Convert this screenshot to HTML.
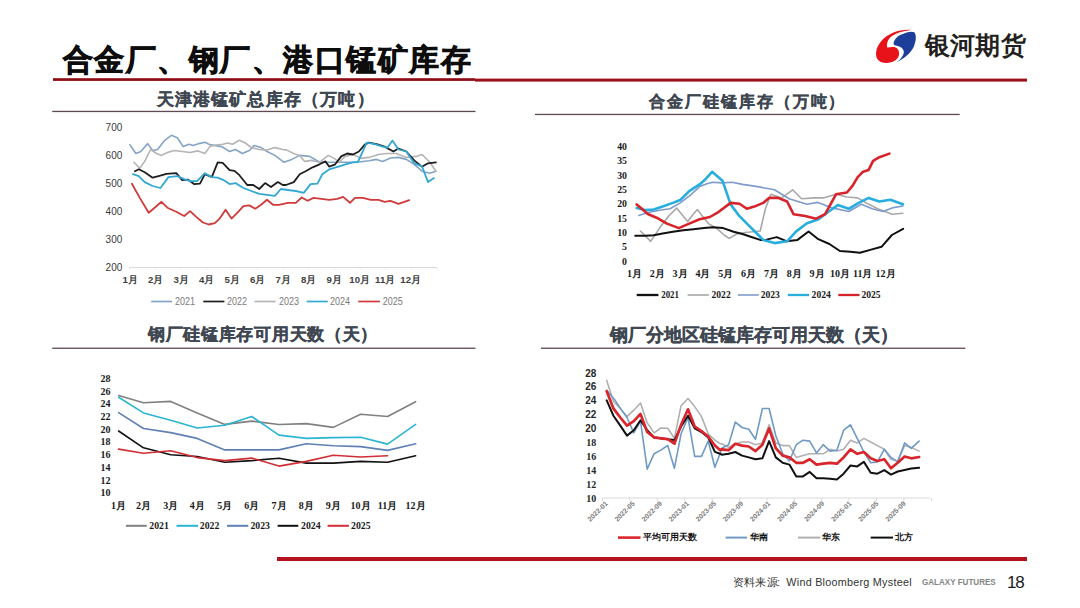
<!DOCTYPE html>
<html><head><meta charset="utf-8"><style>
html,body{margin:0;padding:0;background:#fff;}
body{width:1080px;height:608px;position:relative;overflow:hidden;font-family:"Liberation Sans",sans-serif;}
.a{position:absolute;white-space:nowrap;}
</style></head><body>
<svg class="a" style="left:0;top:0" width="1080" height="608" viewBox="0 0 1080 608">
<!-- header lines -->
<rect x="53" y="78.2" width="422" height="2.7" fill="#8e0d15"/>
<rect x="475" y="78.6" width="552" height="3" fill="#9b1119"/>
<rect x="52.2" y="110.8" width="423.3" height="1.3" fill="#5e4a50"/>
<rect x="535" y="113.8" width="424.7" height="1.3" fill="#5e4a50"/>
<rect x="52.2" y="347.6" width="423.3" height="1.3" fill="#5e4a50"/>
<rect x="541" y="347.6" width="424.3" height="1.3" fill="#5e4a50"/>
<rect x="277" y="557" width="750" height="4" fill="#b5141f"/>
<!-- logo -->
<g transform="translate(870,25) scale(0.0691)">
<path d="M600,72 C450,55 270,110 165,230 C100,305 80,380 90,450 C100,515 160,552 240,550 C330,545 400,500 418,440 C428,395 415,345 370,325 C330,310 290,325 250,325 C235,280 250,225 295,178 C355,120 470,88 600,72 Z" fill="#e8121b"/>
<path d="M485,126 C540,100 610,88 640,105 C675,140 668,230 635,310 C595,400 500,480 385,540 C440,500 480,450 490,400 C492,360 460,325 423,312 C390,300 360,295 343,281 C340,250 350,215 405,163 C430,145 460,134 485,126 Z" fill="#1e3e9c"/>
</g>
<line x1="129.5" y1="267.5" x2="437" y2="267.5" stroke="#d9d9d9" stroke-width="1"/>
<line x1="129.5" y1="267.5" x2="129.5" y2="269.5" stroke="#e3e3e3" stroke-width="1"/>
<line x1="155.1" y1="267.5" x2="155.1" y2="269.5" stroke="#e3e3e3" stroke-width="1"/>
<line x1="180.7" y1="267.5" x2="180.7" y2="269.5" stroke="#e3e3e3" stroke-width="1"/>
<line x1="206.4" y1="267.5" x2="206.4" y2="269.5" stroke="#e3e3e3" stroke-width="1"/>
<line x1="232.0" y1="267.5" x2="232.0" y2="269.5" stroke="#e3e3e3" stroke-width="1"/>
<line x1="257.6" y1="267.5" x2="257.6" y2="269.5" stroke="#e3e3e3" stroke-width="1"/>
<line x1="283.2" y1="267.5" x2="283.2" y2="269.5" stroke="#e3e3e3" stroke-width="1"/>
<line x1="308.8" y1="267.5" x2="308.8" y2="269.5" stroke="#e3e3e3" stroke-width="1"/>
<line x1="334.5" y1="267.5" x2="334.5" y2="269.5" stroke="#e3e3e3" stroke-width="1"/>
<line x1="360.1" y1="267.5" x2="360.1" y2="269.5" stroke="#e3e3e3" stroke-width="1"/>
<line x1="385.7" y1="267.5" x2="385.7" y2="269.5" stroke="#e3e3e3" stroke-width="1"/>
<line x1="411.3" y1="267.5" x2="411.3" y2="269.5" stroke="#e3e3e3" stroke-width="1"/>
<line x1="436.9" y1="267.5" x2="436.9" y2="269.5" stroke="#e3e3e3" stroke-width="1"/>
<polyline points="129.9,144.6 135.9,153.5 140.8,151.5 147.7,143.6 152.6,150.5 157.6,149.5 164.5,140.6 171.4,135.3 177.3,137.7 183.2,146.6 189.1,144.2 193.1,145.6 199.0,143.6 204.9,142.2 209.8,144.6 215.8,145.6 221.7,146.6 229.6,151.5 235.5,149.5 242.4,153.5 249.3,150.5 254.2,145.6 261.1,147.6 267.0,151.5 274.9,155.4 282.8,161.4 283.9,162.3 291.8,159.4 299.7,155.4 309.6,156.4 319.5,162.0 331.3,162.3 345.1,162.3 358.9,162.0 368.8,160.8 376.7,159.4 382.6,161.4 390.5,158.0 398.4,157.4 406.3,159.4 414.2,164.3 422.0,171.2 429.9,173.2 435.9,171.2" fill="none" stroke="#84a4c6" stroke-width="1.6" stroke-linejoin="round" stroke-linecap="round" />
<polyline points="133.9,162.3 139.8,168.3 144.7,161.4 150.6,149.5 156.6,153.5 161.5,155.4 167.4,152.5 174.3,150.5 182.2,151.5 190.1,152.5 198.0,150.9 204.9,153.5 209.8,146.6 215.8,145.0 222.7,144.2 227.6,143.0 232.5,144.2 239.4,140.3 245.3,143.0 251.3,147.6 259.2,149.5 267.0,150.1 274.9,147.6 282.8,149.5 286.9,150.1 293.8,153.5 299.7,155.4 304.7,161.4 311.6,160.4 319.5,162.3 328.3,155.4 334.3,158.4 339.2,162.3 345.1,156.4 353.0,154.5 360.9,158.4 368.8,157.4 378.6,154.5 386.5,153.5 396.4,153.5 406.3,157.4 416.1,156.4 422.0,154.5 429.9,162.3 435.9,171.2" fill="none" stroke="#b4b4b4" stroke-width="1.6" stroke-linejoin="round" stroke-linecap="round" />
<polyline points="134.9,171.2 138.8,169.3 144.7,172.2 152.6,177.7 159.5,175.8 166.4,173.8 176.3,173.2 182.2,180.1 188.1,179.7 194.1,184.1 200.0,183.7 204.9,174.2 211.8,177.1 217.7,162.3 222.7,162.9 229.6,170.2 234.5,170.8 239.4,175.2 247.3,185.0 253.2,185.0 259.2,189.0 265.1,183.1 271.0,187.0 277.9,182.1 282.8,185.0 285.9,185.0 293.8,182.1 299.7,174.2 305.6,171.2 312.6,167.3 319.5,164.3 325.4,161.4 329.3,166.7 335.2,164.3 341.2,156.4 347.1,153.5 353.0,154.5 358.9,151.5 364.8,144.6 368.8,142.6 376.7,144.2 384.6,146.6 393.4,151.5 398.4,148.5 406.3,151.5 414.2,160.4 422.0,166.7 428.0,163.3 435.9,162.3" fill="none" stroke="#1e1e1e" stroke-width="1.8" stroke-linejoin="round" stroke-linecap="round" />
<polyline points="132.9,174.2 138.8,176.2 144.7,182.1 152.6,186.0 160.5,188.0 168.4,177.1 177.3,176.2 184.2,179.1 190.1,181.1 197.0,181.1 204.9,173.2 211.8,177.1 217.7,177.7 223.6,180.1 229.6,184.1 235.5,183.1 243.4,188.0 251.3,191.0 259.2,193.9 267.0,194.9 274.9,195.9 280.9,189.0 287.9,190.0 295.8,191.0 303.7,192.9 310.6,184.1 317.5,183.7 322.4,174.2 329.3,169.3 339.2,166.3 347.1,163.9 353.0,162.3 357.9,162.0 366.8,142.6 374.7,144.2 382.6,146.6 387.5,147.6 392.5,140.6 398.4,149.5 406.3,151.5 414.2,163.3 422.0,166.3 428.0,182.1 433.9,178.1" fill="none" stroke="#33a8d2" stroke-width="1.8" stroke-linejoin="round" stroke-linecap="round" />
<polyline points="131.9,183.7 139.8,197.9 148.7,212.7 154.6,207.7 161.5,201.8 167.4,207.7 176.3,211.7 184.2,216.0 190.1,211.1 196.0,216.6 202.9,222.5 208.8,224.5 214.8,223.1 219.7,218.6 225.6,209.7 231.5,218.6 237.5,212.7 243.4,206.1 249.3,205.4 255.2,208.7 261.1,204.8 267.0,199.8 273.0,204.8 278.9,204.8 287.9,202.8 295.8,202.8 301.7,197.5 307.6,200.8 313.5,197.9 321.4,198.8 329.3,199.8 337.2,198.8 343.1,196.9 350.0,202.8 355.0,197.9 362.9,197.9 370.8,199.8 378.6,199.8 384.6,201.8 390.5,200.8 398.4,203.8 404.3,201.8 409.2,200.2" fill="none" stroke="#d03a3a" stroke-width="1.8" stroke-linejoin="round" stroke-linecap="round" />
<polyline points="640.4,231.0 650.7,241.4 659.6,228.1 668.5,216.2 676.6,208.1 683.3,216.2 687.7,221.4 692.2,215.5 697.3,209.6 702.5,216.2 708.4,223.6 717.3,228.8 724.7,235.5 729.2,238.4 736.6,234.0 745.4,232.5 760.2,231.0 765.4,208.8 770.9,194.3 781.7,197.9 792.6,189.8 801.6,198.8 814.3,197.9 823.3,197.9 836.0,194.3 846.9,197.0 857.7,197.9 866.8,203.3 877.6,208.8 892.1,214.2 902.9,213.3" fill="none" stroke="#a8a8a8" stroke-width="1.6" stroke-linejoin="round" stroke-linecap="round" />
<polyline points="638.9,215.5 647.8,212.5 659.6,210.3 670.0,208.8 680.3,202.9 690.7,194.8 699.6,186.6 707.0,183.7 712.9,182.2 721.8,182.9 732.1,182.2 742.5,184.4 752.8,185.9 761.7,187.4 774.5,189.8 789.0,198.8 807.0,204.2 817.9,202.4 832.4,207.9 848.7,211.5 861.3,204.2 872.2,208.8 883.0,211.5 892.1,207.9 902.9,206.0" fill="none" stroke="#7f9bcb" stroke-width="1.6" stroke-linejoin="round" stroke-linecap="round" />
<polyline points="635.2,235.8 644.8,235.8 653.7,235.2 662.6,233.6 672.9,231.8 683.3,230.3 693.6,229.3 704.0,228.1 712.9,227.3 723.2,228.1 733.6,231.8 742.5,234.0 751.4,237.0 760.2,239.9 765.6,239.9 776.7,237.1 786.4,241.2 797.5,239.9 808.6,231.5 818.3,239.2 829.4,244.0 839.9,251.0 850.3,251.7 860.0,252.8 871.1,249.6 881.5,246.8 891.9,235.0 903.1,228.8" fill="none" stroke="#111111" stroke-width="2.0" stroke-linejoin="round" stroke-linecap="round" />
<polyline points="636.7,208.1 644.8,210.0 653.7,209.6 662.6,206.6 672.9,202.9 680.3,200.0 689.2,191.1 699.6,184.4 705.5,179.2 712.1,171.8 722.5,180.7 730.6,204.4 739.5,216.2 748.4,225.1 757.3,234.0 763.2,239.9 774.5,243.1 787.1,241.3 796.2,231.4 807.0,223.2 817.9,219.6 828.8,211.5 837.8,205.1 848.7,208.8 857.7,203.3 868.6,197.9 879.4,201.5 890.3,199.7 902.9,204.2" fill="none" stroke="#28ade0" stroke-width="2.6" stroke-linejoin="round" stroke-linecap="round" />
<polyline points="636.7,204.4 641.8,208.8 647.8,214.0 656.6,217.7 667.0,223.6 678.8,228.1 689.2,223.6 699.6,219.2 709.9,217.0 718.8,211.8 730.6,202.9 739.5,203.7 746.9,208.8 754.3,206.6 763.2,202.9 769.0,197.9 778.1,197.9 787.1,201.5 793.5,214.2 805.2,216.0 816.1,218.7 825.1,214.2 836.0,194.3 846.9,192.5 852.3,186.1 857.7,177.1 863.1,171.7 868.6,169.9 873.1,160.8 879.4,157.2 889.4,153.6" fill="none" stroke="#d8232a" stroke-width="2.6" stroke-linejoin="round" stroke-linecap="round" />
<polyline points="118.6,395.6 143.5,402.7 170.7,401.4 197.2,412.9 224.8,424.4 251.7,421.1 279.0,424.5 306.3,423.6 333.3,427.4 360.6,414.2 387.6,416.5 415.6,401.7" fill="none" stroke="#808080" stroke-width="1.6" stroke-linejoin="round" stroke-linecap="round" />
<polyline points="118.6,397.3 143.5,412.9 170.7,420.3 197.2,428.0 224.8,425.2 251.7,416.5 279.0,435.1 306.3,438.4 333.3,437.6 360.6,437.2 387.6,444.1 415.6,424.4" fill="none" stroke="#2ab5d3" stroke-width="1.6" stroke-linejoin="round" stroke-linecap="round" />
<polyline points="118.6,412.6 143.5,428.5 170.7,432.6 197.2,438.4 224.8,449.9 251.7,449.9 279.0,449.9 306.3,443.8 333.3,445.8 360.6,446.6 387.6,450.4 415.6,443.8" fill="none" stroke="#5f7fb5" stroke-width="1.6" stroke-linejoin="round" stroke-linecap="round" />
<polyline points="118.6,431.0 143.5,447.8 170.7,454.8 197.2,456.5 224.8,462.2 251.7,460.6 279.0,458.3 306.3,463.1 333.3,463.1 360.6,461.4 387.6,462.2 415.6,455.7" fill="none" stroke="#111111" stroke-width="1.6" stroke-linejoin="round" stroke-linecap="round" />
<polyline points="118.6,449.1 143.5,453.2 170.7,450.7 197.2,457.6 224.8,460.6 251.7,458.1 279.0,466.1 306.3,461.4 333.3,455.3 360.6,457.0 387.6,455.7" fill="none" stroke="#d12e36" stroke-width="1.6" stroke-linejoin="round" stroke-linecap="round" />
<line x1="602" y1="498" x2="930" y2="498" stroke="#d9d9d9" stroke-width="1"/>
<line x1="602.5" y1="498" x2="602.5" y2="501" stroke="#d9d9d9" stroke-width="1"/>
<line x1="629.9" y1="498" x2="629.9" y2="501" stroke="#d9d9d9" stroke-width="1"/>
<line x1="657.3" y1="498" x2="657.3" y2="501" stroke="#d9d9d9" stroke-width="1"/>
<line x1="684.7" y1="498" x2="684.7" y2="501" stroke="#d9d9d9" stroke-width="1"/>
<line x1="712.1" y1="498" x2="712.1" y2="501" stroke="#d9d9d9" stroke-width="1"/>
<line x1="739.5" y1="498" x2="739.5" y2="501" stroke="#d9d9d9" stroke-width="1"/>
<line x1="766.9" y1="498" x2="766.9" y2="501" stroke="#d9d9d9" stroke-width="1"/>
<line x1="794.3" y1="498" x2="794.3" y2="501" stroke="#d9d9d9" stroke-width="1"/>
<line x1="821.7" y1="498" x2="821.7" y2="501" stroke="#d9d9d9" stroke-width="1"/>
<line x1="849.1" y1="498" x2="849.1" y2="501" stroke="#d9d9d9" stroke-width="1"/>
<line x1="876.5" y1="498" x2="876.5" y2="501" stroke="#d9d9d9" stroke-width="1"/>
<line x1="903.9" y1="498" x2="903.9" y2="501" stroke="#d9d9d9" stroke-width="1"/>
<line x1="931.3" y1="498" x2="931.3" y2="501" stroke="#d9d9d9" stroke-width="1"/>
<polyline points="606.7,380.4 613.4,401.2 620.3,408.4 627.0,416.6 633.8,410.2 640.5,403.0 647.2,422.9 654.1,432.9 660.8,428.0 667.7,428.3 674.4,438.3 681.1,405.7 688.0,398.5 694.7,406.6 701.5,416.6 708.2,433.8 714.9,440.1 720.0,443.7 721.7,443.8 728.6,447.4 735.3,443.8 742.1,442.0 748.8,442.0 755.5,444.7 762.4,442.9 769.1,424.8 775.8,442.9 782.7,445.6 789.4,445.6 796.3,457.4 803.0,455.6 809.7,453.8 816.5,453.8 823.2,453.8 830.1,449.3 836.9,451.1 843.6,449.3 850.5,440.2 857.2,442.9 863.9,438.4 870.7,442.0 877.4,445.6 884.3,449.3 891.0,459.2 897.7,461.0 904.6,445.6 911.3,447.4 919.1,451.1" fill="none" stroke="#b0b0b0" stroke-width="1.6" stroke-linejoin="round" stroke-linecap="round" />
<polyline points="606.7,390.3 614.5,399.4 620.3,408.4 627.0,417.5 633.8,432.9 640.5,421.1 647.2,469.1 654.1,453.7 660.8,450.1 667.7,445.5 674.4,468.2 681.1,433.8 688.0,417.5 694.7,456.4 701.5,456.4 708.2,441.0 714.9,467.3 720.0,453.7 721.7,448.3 728.6,444.7 735.3,422.1 742.1,427.5 748.8,429.3 755.5,439.3 762.4,408.5 769.1,408.5 775.8,435.7 782.7,453.8 789.4,461.0 796.3,444.7 803.0,440.2 809.7,441.1 816.5,452.9 823.2,444.7 830.1,451.1 836.9,450.2 843.6,430.2 850.5,424.8 857.2,438.4 863.9,452.0 870.7,462.8 877.4,461.9 884.3,449.3 891.0,457.4 897.7,461.9 904.6,442.9 911.3,448.3 919.1,441.1" fill="none" stroke="#6f9ac6" stroke-width="1.6" stroke-linejoin="round" stroke-linecap="round" />
<polyline points="606.7,400.3 613.4,415.7 620.3,425.6 627.0,435.6 633.8,430.2 640.5,420.2 647.2,430.2 654.1,437.4 660.8,438.3 667.7,439.2 674.4,440.1 681.1,426.5 688.0,415.7 694.7,428.3 701.5,432.0 708.2,437.4 714.9,451.9 720.0,453.7 721.7,454.7 728.6,453.8 735.3,452.0 742.1,455.6 748.8,457.4 755.5,459.2 762.4,458.3 769.1,441.1 775.8,457.4 782.7,462.8 789.4,464.6 796.3,476.4 803.0,476.4 809.7,471.9 816.5,478.2 823.2,478.2 830.1,478.8 836.9,479.5 843.6,473.7 850.5,465.5 857.2,466.4 863.9,461.9 870.7,472.8 877.4,473.7 884.3,470.1 891.0,474.6 897.7,471.5 904.6,470.1 911.3,468.6 919.1,467.7" fill="none" stroke="#111111" stroke-width="2.0" stroke-linejoin="round" stroke-linecap="round" />
<polyline points="606.7,391.2 613.4,408.4 620.3,417.5 627.0,425.6 633.8,421.1 640.5,413.9 647.2,432.0 654.1,437.4 660.8,438.3 667.7,439.2 674.4,443.7 681.1,424.7 688.0,409.3 694.7,426.5 701.5,431.1 708.2,436.5 714.9,445.5 720.0,450.1 721.7,449.3 728.6,450.2 735.3,443.8 742.1,445.6 748.8,446.5 755.5,451.1 762.4,444.7 769.1,428.4 775.8,448.3 782.7,455.6 789.4,457.4 796.3,462.8 803.0,462.8 809.7,459.2 816.5,464.6 823.2,463.7 830.1,462.8 836.9,463.7 843.6,457.4 850.5,449.3 857.2,453.8 863.9,452.0 870.7,458.3 877.4,461.0 884.3,459.2 891.0,468.3 897.7,462.8 904.6,456.5 911.3,458.3 919.1,457.0" fill="none" stroke="#d8262c" stroke-width="2.7" stroke-linejoin="round" stroke-linecap="round" />
<line x1="151.2" y1="301.5" x2="172.0" y2="301.5" stroke="#84a4c6" stroke-width="1.7"/>
<line x1="203.3" y1="301.5" x2="224.4" y2="301.5" stroke="#1e1e1e" stroke-width="1.7"/>
<line x1="254.4" y1="301.5" x2="275.6" y2="301.5" stroke="#b4b4b4" stroke-width="1.7"/>
<line x1="306.7" y1="301.5" x2="327.8" y2="301.5" stroke="#33a8d2" stroke-width="1.7"/>
<line x1="358.2" y1="301.5" x2="380.0" y2="301.5" stroke="#d03a3a" stroke-width="1.7"/>
<line x1="636.7" y1="295.0" x2="658.4" y2="295.0" stroke="#111111" stroke-width="2.3"/>
<line x1="687.6" y1="295.0" x2="708.9" y2="295.0" stroke="#a8a8a8" stroke-width="1.6"/>
<line x1="737.9" y1="295.0" x2="758.8" y2="295.0" stroke="#7f9bcb" stroke-width="1.6"/>
<line x1="787.8" y1="295.0" x2="809.1" y2="295.0" stroke="#28ade0" stroke-width="2.3"/>
<line x1="838.3" y1="295.0" x2="859.5" y2="295.0" stroke="#d8232a" stroke-width="2.3"/>
<line x1="125.9" y1="525.8" x2="146.7" y2="525.8" stroke="#808080" stroke-width="2"/>
<line x1="176.5" y1="525.8" x2="198.0" y2="525.8" stroke="#2ab5d3" stroke-width="2"/>
<line x1="227.0" y1="525.8" x2="248.3" y2="525.8" stroke="#5f7fb5" stroke-width="2"/>
<line x1="277.6" y1="525.8" x2="298.3" y2="525.8" stroke="#111111" stroke-width="2"/>
<line x1="327.6" y1="525.8" x2="348.9" y2="525.8" stroke="#d12e36" stroke-width="2"/>
<line x1="618.0" y1="537.6" x2="640.5" y2="537.6" stroke="#d8262c" stroke-width="2.6"/>
<line x1="725.6" y1="537.6" x2="747.0" y2="537.6" stroke="#6f9ac6" stroke-width="2"/>
<line x1="798.0" y1="537.6" x2="820.4" y2="537.6" stroke="#b0b0b0" stroke-width="2"/>
<line x1="870.7" y1="537.6" x2="893.0" y2="537.6" stroke="#111111" stroke-width="2"/>
<text x="122.3" y="130.8" font-size="10" fill="#3a3a3a" font-weight="normal" font-family='"Liberation Sans", sans-serif' text-anchor="end" >700</text>
<text x="122.3" y="158.9" font-size="10" fill="#3a3a3a" font-weight="normal" font-family='"Liberation Sans", sans-serif' text-anchor="end" >600</text>
<text x="122.3" y="187.0" font-size="10" fill="#3a3a3a" font-weight="normal" font-family='"Liberation Sans", sans-serif' text-anchor="end" >500</text>
<text x="122.3" y="215.2" font-size="10" fill="#3a3a3a" font-weight="normal" font-family='"Liberation Sans", sans-serif' text-anchor="end" >400</text>
<text x="122.3" y="243.3" font-size="10" fill="#3a3a3a" font-weight="normal" font-family='"Liberation Sans", sans-serif' text-anchor="end" >300</text>
<text x="122.3" y="271.4" font-size="10" fill="#3a3a3a" font-weight="normal" font-family='"Liberation Sans", sans-serif' text-anchor="end" >200</text>
<text x="130.2" y="282.8" font-size="9.6" fill="#404040" font-weight="bold" font-family='"Liberation Sans", sans-serif' text-anchor="middle" >1月</text>
<text x="155.7" y="282.8" font-size="9.6" fill="#404040" font-weight="bold" font-family='"Liberation Sans", sans-serif' text-anchor="middle" >2月</text>
<text x="181.2" y="282.8" font-size="9.6" fill="#404040" font-weight="bold" font-family='"Liberation Sans", sans-serif' text-anchor="middle" >3月</text>
<text x="206.7" y="282.8" font-size="9.6" fill="#404040" font-weight="bold" font-family='"Liberation Sans", sans-serif' text-anchor="middle" >4月</text>
<text x="232.2" y="282.8" font-size="9.6" fill="#404040" font-weight="bold" font-family='"Liberation Sans", sans-serif' text-anchor="middle" >5月</text>
<text x="257.7" y="282.8" font-size="9.6" fill="#404040" font-weight="bold" font-family='"Liberation Sans", sans-serif' text-anchor="middle" >6月</text>
<text x="283.2" y="282.8" font-size="9.6" fill="#404040" font-weight="bold" font-family='"Liberation Sans", sans-serif' text-anchor="middle" >7月</text>
<text x="308.7" y="282.8" font-size="9.6" fill="#404040" font-weight="bold" font-family='"Liberation Sans", sans-serif' text-anchor="middle" >8月</text>
<text x="334.2" y="282.8" font-size="9.6" fill="#404040" font-weight="bold" font-family='"Liberation Sans", sans-serif' text-anchor="middle" >9月</text>
<text x="359.7" y="282.8" font-size="9.6" fill="#404040" font-weight="bold" font-family='"Liberation Sans", sans-serif' text-anchor="middle" >10月</text>
<text x="385.2" y="282.8" font-size="9.6" fill="#404040" font-weight="bold" font-family='"Liberation Sans", sans-serif' text-anchor="middle" >11月</text>
<text x="410.7" y="282.8" font-size="9.6" fill="#404040" font-weight="bold" font-family='"Liberation Sans", sans-serif' text-anchor="middle" >12月</text>
<text x="174.9" y="305.2" font-size="10.2" fill="#7a7a7a" font-weight="normal" font-family='"Liberation Sans", sans-serif' text-anchor="start" textLength="20" lengthAdjust="spacingAndGlyphs">2021</text>
<text x="227.0" y="305.2" font-size="10.2" fill="#7a7a7a" font-weight="normal" font-family='"Liberation Sans", sans-serif' text-anchor="start" textLength="20" lengthAdjust="spacingAndGlyphs">2022</text>
<text x="279.0" y="305.2" font-size="10.2" fill="#7a7a7a" font-weight="normal" font-family='"Liberation Sans", sans-serif' text-anchor="start" textLength="20" lengthAdjust="spacingAndGlyphs">2023</text>
<text x="330.0" y="305.2" font-size="10.2" fill="#7a7a7a" font-weight="normal" font-family='"Liberation Sans", sans-serif' text-anchor="start" textLength="20" lengthAdjust="spacingAndGlyphs">2024</text>
<text x="382.7" y="305.2" font-size="10.2" fill="#7a7a7a" font-weight="normal" font-family='"Liberation Sans", sans-serif' text-anchor="start" textLength="20" lengthAdjust="spacingAndGlyphs">2025</text>
<text x="627.0" y="149.9" font-size="9.8" fill="#1a1a1a" font-weight="bold" font-family='"Liberation Serif", serif' text-anchor="end" >40</text>
<text x="627.0" y="164.2" font-size="9.8" fill="#1a1a1a" font-weight="bold" font-family='"Liberation Serif", serif' text-anchor="end" >35</text>
<text x="627.0" y="178.6" font-size="9.8" fill="#1a1a1a" font-weight="bold" font-family='"Liberation Serif", serif' text-anchor="end" >30</text>
<text x="627.0" y="192.9" font-size="9.8" fill="#1a1a1a" font-weight="bold" font-family='"Liberation Serif", serif' text-anchor="end" >25</text>
<text x="627.0" y="207.3" font-size="9.8" fill="#1a1a1a" font-weight="bold" font-family='"Liberation Serif", serif' text-anchor="end" >20</text>
<text x="627.0" y="221.7" font-size="9.8" fill="#1a1a1a" font-weight="bold" font-family='"Liberation Serif", serif' text-anchor="end" >15</text>
<text x="627.0" y="236.0" font-size="9.8" fill="#1a1a1a" font-weight="bold" font-family='"Liberation Serif", serif' text-anchor="end" >10</text>
<text x="627.0" y="250.4" font-size="9.8" fill="#1a1a1a" font-weight="bold" font-family='"Liberation Serif", serif' text-anchor="end" >5</text>
<text x="627.0" y="264.7" font-size="9.8" fill="#1a1a1a" font-weight="bold" font-family='"Liberation Serif", serif' text-anchor="end" >0</text>
<text x="634.4" y="277.3" font-size="10" fill="#1a1a1a" font-weight="bold" font-family='"Liberation Serif", serif' text-anchor="middle" >1月</text>
<text x="657.2" y="277.3" font-size="10" fill="#1a1a1a" font-weight="bold" font-family='"Liberation Serif", serif' text-anchor="middle" >2月</text>
<text x="680.1" y="277.3" font-size="10" fill="#1a1a1a" font-weight="bold" font-family='"Liberation Serif", serif' text-anchor="middle" >3月</text>
<text x="702.9" y="277.3" font-size="10" fill="#1a1a1a" font-weight="bold" font-family='"Liberation Serif", serif' text-anchor="middle" >4月</text>
<text x="725.7" y="277.3" font-size="10" fill="#1a1a1a" font-weight="bold" font-family='"Liberation Serif", serif' text-anchor="middle" >5月</text>
<text x="748.5" y="277.3" font-size="10" fill="#1a1a1a" font-weight="bold" font-family='"Liberation Serif", serif' text-anchor="middle" >6月</text>
<text x="771.4" y="277.3" font-size="10" fill="#1a1a1a" font-weight="bold" font-family='"Liberation Serif", serif' text-anchor="middle" >7月</text>
<text x="794.2" y="277.3" font-size="10" fill="#1a1a1a" font-weight="bold" font-family='"Liberation Serif", serif' text-anchor="middle" >8月</text>
<text x="817.0" y="277.3" font-size="10" fill="#1a1a1a" font-weight="bold" font-family='"Liberation Serif", serif' text-anchor="middle" >9月</text>
<text x="839.9" y="277.3" font-size="10" fill="#1a1a1a" font-weight="bold" font-family='"Liberation Serif", serif' text-anchor="middle" >10月</text>
<text x="862.7" y="277.3" font-size="10" fill="#1a1a1a" font-weight="bold" font-family='"Liberation Serif", serif' text-anchor="middle" >11月</text>
<text x="885.5" y="277.3" font-size="10" fill="#1a1a1a" font-weight="bold" font-family='"Liberation Serif", serif' text-anchor="middle" >12月</text>
<text x="661.2" y="298.2" font-size="11" fill="#1a1a1a" font-weight="bold" font-family='"Liberation Serif", serif' text-anchor="start" textLength="17.8" lengthAdjust="spacingAndGlyphs">2021</text>
<text x="711.5" y="298.2" font-size="11" fill="#1a1a1a" font-weight="bold" font-family='"Liberation Serif", serif' text-anchor="start" textLength="19.2" lengthAdjust="spacingAndGlyphs">2022</text>
<text x="760.7" y="298.2" font-size="11" fill="#1a1a1a" font-weight="bold" font-family='"Liberation Serif", serif' text-anchor="start" textLength="19.2" lengthAdjust="spacingAndGlyphs">2023</text>
<text x="811.6" y="298.2" font-size="11" fill="#1a1a1a" font-weight="bold" font-family='"Liberation Serif", serif' text-anchor="start" textLength="19.2" lengthAdjust="spacingAndGlyphs">2024</text>
<text x="861.4" y="298.2" font-size="11" fill="#1a1a1a" font-weight="bold" font-family='"Liberation Serif", serif' text-anchor="start" textLength="19.2" lengthAdjust="spacingAndGlyphs">2025</text>
<text x="110.5" y="381.8" font-size="10" fill="#1a1a1a" font-weight="bold" font-family='"Liberation Serif", serif' text-anchor="end" >28</text>
<text x="110.5" y="394.5" font-size="10" fill="#1a1a1a" font-weight="bold" font-family='"Liberation Serif", serif' text-anchor="end" >26</text>
<text x="110.5" y="407.2" font-size="10" fill="#1a1a1a" font-weight="bold" font-family='"Liberation Serif", serif' text-anchor="end" >24</text>
<text x="110.5" y="420.0" font-size="10" fill="#1a1a1a" font-weight="bold" font-family='"Liberation Serif", serif' text-anchor="end" >22</text>
<text x="110.5" y="432.7" font-size="10" fill="#1a1a1a" font-weight="bold" font-family='"Liberation Serif", serif' text-anchor="end" >20</text>
<text x="110.5" y="445.4" font-size="10" fill="#1a1a1a" font-weight="bold" font-family='"Liberation Serif", serif' text-anchor="end" >18</text>
<text x="110.5" y="458.1" font-size="10" fill="#1a1a1a" font-weight="bold" font-family='"Liberation Serif", serif' text-anchor="end" >16</text>
<text x="110.5" y="470.8" font-size="10" fill="#1a1a1a" font-weight="bold" font-family='"Liberation Serif", serif' text-anchor="end" >14</text>
<text x="110.5" y="483.6" font-size="10" fill="#1a1a1a" font-weight="bold" font-family='"Liberation Serif", serif' text-anchor="end" >12</text>
<text x="110.5" y="496.3" font-size="10" fill="#1a1a1a" font-weight="bold" font-family='"Liberation Serif", serif' text-anchor="end" >10</text>
<text x="118.6" y="509.3" font-size="10" fill="#1a1a1a" font-weight="bold" font-family='"Liberation Serif", serif' text-anchor="middle" >1月</text>
<text x="143.5" y="509.3" font-size="10" fill="#1a1a1a" font-weight="bold" font-family='"Liberation Serif", serif' text-anchor="middle" >2月</text>
<text x="170.7" y="509.3" font-size="10" fill="#1a1a1a" font-weight="bold" font-family='"Liberation Serif", serif' text-anchor="middle" >3月</text>
<text x="197.2" y="509.3" font-size="10" fill="#1a1a1a" font-weight="bold" font-family='"Liberation Serif", serif' text-anchor="middle" >4月</text>
<text x="224.8" y="509.3" font-size="10" fill="#1a1a1a" font-weight="bold" font-family='"Liberation Serif", serif' text-anchor="middle" >5月</text>
<text x="251.7" y="509.3" font-size="10" fill="#1a1a1a" font-weight="bold" font-family='"Liberation Serif", serif' text-anchor="middle" >6月</text>
<text x="279.0" y="509.3" font-size="10" fill="#1a1a1a" font-weight="bold" font-family='"Liberation Serif", serif' text-anchor="middle" >7月</text>
<text x="306.3" y="509.3" font-size="10" fill="#1a1a1a" font-weight="bold" font-family='"Liberation Serif", serif' text-anchor="middle" >8月</text>
<text x="333.3" y="509.3" font-size="10" fill="#1a1a1a" font-weight="bold" font-family='"Liberation Serif", serif' text-anchor="middle" >9月</text>
<text x="360.6" y="509.3" font-size="10" fill="#1a1a1a" font-weight="bold" font-family='"Liberation Serif", serif' text-anchor="middle" >10月</text>
<text x="387.6" y="509.3" font-size="10" fill="#1a1a1a" font-weight="bold" font-family='"Liberation Serif", serif' text-anchor="middle" >11月</text>
<text x="415.6" y="509.3" font-size="10" fill="#1a1a1a" font-weight="bold" font-family='"Liberation Serif", serif' text-anchor="middle" >12月</text>
<text x="149.3" y="529.3" font-size="10.8" fill="#1a1a1a" font-weight="bold" font-family='"Liberation Serif", serif' text-anchor="start" textLength="19.6" lengthAdjust="spacingAndGlyphs">2021</text>
<text x="199.8" y="529.3" font-size="10.8" fill="#1a1a1a" font-weight="bold" font-family='"Liberation Serif", serif' text-anchor="start" textLength="19.6" lengthAdjust="spacingAndGlyphs">2022</text>
<text x="250.4" y="529.3" font-size="10.8" fill="#1a1a1a" font-weight="bold" font-family='"Liberation Serif", serif' text-anchor="start" textLength="19.6" lengthAdjust="spacingAndGlyphs">2023</text>
<text x="301.0" y="529.3" font-size="10.8" fill="#1a1a1a" font-weight="bold" font-family='"Liberation Serif", serif' text-anchor="start" textLength="19.6" lengthAdjust="spacingAndGlyphs">2024</text>
<text x="351.0" y="529.3" font-size="10.8" fill="#1a1a1a" font-weight="bold" font-family='"Liberation Serif", serif' text-anchor="start" textLength="19.6" lengthAdjust="spacingAndGlyphs">2025</text>
<text x="596.3" y="376.5" font-size="10" fill="#262626" font-weight="bold" font-family='"Liberation Sans", sans-serif' text-anchor="end" >28</text>
<text x="596.3" y="390.4" font-size="10" fill="#262626" font-weight="bold" font-family='"Liberation Sans", sans-serif' text-anchor="end" >26</text>
<text x="596.3" y="404.4" font-size="10" fill="#262626" font-weight="bold" font-family='"Liberation Sans", sans-serif' text-anchor="end" >24</text>
<text x="596.3" y="418.3" font-size="10" fill="#262626" font-weight="bold" font-family='"Liberation Sans", sans-serif' text-anchor="end" >22</text>
<text x="596.3" y="432.3" font-size="10" fill="#262626" font-weight="bold" font-family='"Liberation Sans", sans-serif' text-anchor="end" >20</text>
<text x="596.3" y="446.2" font-size="10" fill="#262626" font-weight="bold" font-family='"Liberation Serif", serif' text-anchor="end" >18</text>
<text x="596.3" y="460.1" font-size="10" fill="#262626" font-weight="bold" font-family='"Liberation Serif", serif' text-anchor="end" >16</text>
<text x="596.3" y="474.1" font-size="10" fill="#262626" font-weight="bold" font-family='"Liberation Serif", serif' text-anchor="end" >14</text>
<text x="596.3" y="488.0" font-size="10" fill="#262626" font-weight="bold" font-family='"Liberation Serif", serif' text-anchor="end" >12</text>
<text x="596.3" y="502.0" font-size="10" fill="#262626" font-weight="bold" font-family='"Liberation Serif", serif' text-anchor="end" >10</text>
<text transform="translate(608.2,504) rotate(-45)" font-size="6.9" font-weight="bold" fill="#7a7a7a" font-family='"Liberation Sans", sans-serif' text-anchor="end">2022-01</text>
<text transform="translate(635.3,504) rotate(-45)" font-size="6.9" font-weight="bold" fill="#7a7a7a" font-family='"Liberation Sans", sans-serif' text-anchor="end">2022-05</text>
<text transform="translate(662.4,504) rotate(-45)" font-size="6.9" font-weight="bold" fill="#7a7a7a" font-family='"Liberation Sans", sans-serif' text-anchor="end">2022-09</text>
<text transform="translate(689.4,504) rotate(-45)" font-size="6.9" font-weight="bold" fill="#7a7a7a" font-family='"Liberation Sans", sans-serif' text-anchor="end">2023-01</text>
<text transform="translate(716.5,504) rotate(-45)" font-size="6.9" font-weight="bold" fill="#7a7a7a" font-family='"Liberation Sans", sans-serif' text-anchor="end">2023-05</text>
<text transform="translate(743.6,504) rotate(-45)" font-size="6.9" font-weight="bold" fill="#7a7a7a" font-family='"Liberation Sans", sans-serif' text-anchor="end">2023-09</text>
<text transform="translate(770.7,504) rotate(-45)" font-size="6.9" font-weight="bold" fill="#7a7a7a" font-family='"Liberation Sans", sans-serif' text-anchor="end">2024-01</text>
<text transform="translate(797.8,504) rotate(-45)" font-size="6.9" font-weight="bold" fill="#7a7a7a" font-family='"Liberation Sans", sans-serif' text-anchor="end">2024-05</text>
<text transform="translate(824.8,504) rotate(-45)" font-size="6.9" font-weight="bold" fill="#7a7a7a" font-family='"Liberation Sans", sans-serif' text-anchor="end">2024-09</text>
<text transform="translate(851.9,504) rotate(-45)" font-size="6.9" font-weight="bold" fill="#7a7a7a" font-family='"Liberation Sans", sans-serif' text-anchor="end">2025-01</text>
<text transform="translate(879.0,504) rotate(-45)" font-size="6.9" font-weight="bold" fill="#7a7a7a" font-family='"Liberation Sans", sans-serif' text-anchor="end">2025-05</text>
<text transform="translate(906.1,504) rotate(-45)" font-size="6.9" font-weight="bold" fill="#7a7a7a" font-family='"Liberation Sans", sans-serif' text-anchor="end">2025-09</text>
<text x="642.6" y="540.3" font-size="8.9" fill="#111111" font-weight="bold" font-family='"Liberation Sans", sans-serif' text-anchor="start" >平均可用天数</text>
<text x="749.5" y="540.3" font-size="8.9" fill="#111111" font-weight="bold" font-family='"Liberation Sans", sans-serif' text-anchor="start" >华南</text>
<text x="822.0" y="540.3" font-size="8.9" fill="#111111" font-weight="bold" font-family='"Liberation Sans", sans-serif' text-anchor="start" >华东</text>
<text x="894.5" y="540.3" font-size="8.9" fill="#111111" font-weight="bold" font-family='"Liberation Sans", sans-serif' text-anchor="start" >北方</text>
</svg>
<div class="a" style="left:62.5px;top:40px;font-size:29.5px;font-weight:bold;color:#0d0d0d;line-height:40px;letter-spacing:1.5px;-webkit-text-stroke:0.8px #0d0d0d">合金厂、钢厂、港口锰矿库存</div>
<div class="a" style="left:924.5px;top:29.5px;font-size:24.5px;font-weight:bold;color:#231f20;line-height:32px;letter-spacing:0.45px">银河期货</div>
<div class="a" style="left:156.5px;top:86.5px;font-size:16.5px;font-weight:bold;color:#3f4752;line-height:24px;letter-spacing:1.2px;-webkit-text-stroke:0.3px #3f4752">天津港锰矿总库存（万吨）</div>
<div class="a" style="left:649px;top:88.5px;font-size:16.3px;font-weight:bold;color:#3f4752;line-height:24px;letter-spacing:1.95px;-webkit-text-stroke:0.3px #3f4752">合金厂硅锰库存（万吨）</div>
<div class="a" style="left:148px;top:321.5px;font-size:17.3px;font-weight:bold;color:#3f4752;line-height:24px;letter-spacing:0.7px;-webkit-text-stroke:0.3px #3f4752">钢厂硅锰库存可用天数（天）</div>
<div class="a" style="left:609.5px;top:322.8px;font-size:17.8px;font-weight:bold;color:#3f4752;line-height:24px;letter-spacing:0px;-webkit-text-stroke:0.3px #3f4752">钢厂分地区硅锰库存可用天数（天）</div>
<div class="a" style="left:733px;top:574px;font-size:10.5px;color:#333;line-height:16px;letter-spacing:0.2px">资料来源</div>
<div class="a" style="left:777px;top:574px;font-size:10.5px;color:#333;line-height:16px">:</div>
<div class="a" style="left:786.3px;top:574px;font-size:10.8px;color:#333;line-height:16px;letter-spacing:0.25px">Wind Bloomberg Mysteel</div>
<div class="a" style="left:922px;top:574.5px;font-size:9.6px;font-weight:bold;color:#858585;line-height:14px;transform:scaleX(0.84);transform-origin:0 0">GALAXY FUTURES</div>
<div class="a" style="left:1007px;top:572.5px;font-size:17px;color:#1a1a1a;line-height:20px;letter-spacing:-1.2px">18</div>
</body></html>
